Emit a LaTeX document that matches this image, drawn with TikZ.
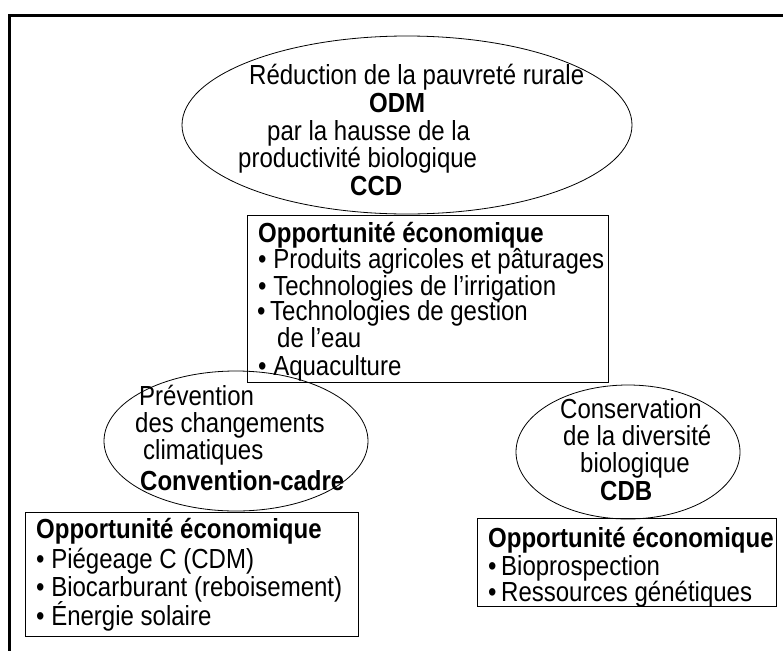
\documentclass[tikz,border=0pt]{standalone}
\usepackage{fontspec}
\setmainfont{Liberation Sans}
\newfontfamily\tallfont{Liberation Sans}[FakeStretch=0.87]
\usetikzlibrary{shapes.geometric}
\begin{document}
\begin{tikzpicture}[x=1pt,y=-1pt,
  oval/.style={draw, ellipse, inner sep=0pt, line width=0.8pt},
  panel/.style={draw, rectangle, inner sep=0pt, line width=1.2pt, anchor=north west},
  txt/.style={anchor=base west, inner sep=0pt, font=\tallfont\fontsize{27.6}{30}\selectfont},
  btxt/.style={anchor=base west, inner sep=0pt, font=\tallfont\fontsize{27.6}{30}\selectfont\bfseries}]
\useasboundingbox (0,0) rectangle (783,651);
% frame
\coordinate (fr1) at (783,15);
\coordinate (fr2) at (9,15);
\coordinate (fr3) at (9,651);
\draw[line width=3pt] (fr1) -- (fr2) -- (fr3);

% top ellipse
\node[oval, minimum width=450pt, minimum height=178pt] (e1) at (407,125) {};
\node[txt]  (t11) at (249,84)  {Réduction de la pauvreté rurale};
\node[btxt] (t12) at (369,112) {ODM};
\node[txt]  (t13) at (267,140) {par la hausse de la};
\node[txt]  (t14) at (238,167) {productivité biologique};
\node[btxt] (t15) at (350,195) {CCD};

% box 1
\node[panel, minimum width=361pt, minimum height=167pt] (b1) at (247,215) {};
\node[btxt] (b11) at (258,242) {Opportunité économique};
\node[txt]  (b12) at (258,268) {\textbullet\ Produits agricoles et pâturages};
\node[txt]  (b13) at (258,295) {\textbullet\ Technologies de l’irrigation};
\node[txt]  (b14) at (257,320) {\textbullet\,Technologies de gestion};
\node[txt]  (b15) at (277,347) {de l’eau};
\node[txt]  (b16) at (258,375) {\textbullet\ Aquaculture};

% left ellipse
\node[oval, minimum width=264pt, minimum height=140pt] (e2) at (236,441) {};
\node[txt]  (t21) at (139,405) {Prévention};
\node[txt]  (t22) at (135,432) {des changements};
\node[txt]  (t23) at (143,459) {climatiques};
\node[btxt] (t24) at (140,490) {Convention-cadre};

% left box
\node[panel, minimum width=333pt, minimum height=124pt] (b2) at (25,512) {};
\node[btxt] (b21) at (36,538) {Opportunité économique};
\node[txt]  (b22) at (36,568) {\textbullet\ Piégeage C (CDM)};
\node[txt]  (b23) at (36,596) {\textbullet\ Biocarburant (reboisement)};
\node[txt]  (b24) at (36,625) {\textbullet\ Énergie solaire};

% right ellipse
\node[oval, minimum width=224pt, minimum height=134pt] (e3) at (628,452) {};
\node[txt]  (t31) at (560,418) {Conservation};
\node[txt]  (t32) at (563,445) {de la diversité};
\node[txt]  (t33) at (580,472) {biologique};
\node[btxt] (t34) at (600,500) {CDB};

% right box
\node[panel, minimum width=299pt, minimum height=88pt] (b3) at (477,518) {};
\node[btxt] (b31) at (488,547) {Opportunité économique};
\node[txt]  (b32) at (488,575) {\textbullet\,Bioprospection};
\node[txt]  (b33) at (488,601) {\textbullet\,Ressources génétiques};
\end{tikzpicture}
\end{document}
